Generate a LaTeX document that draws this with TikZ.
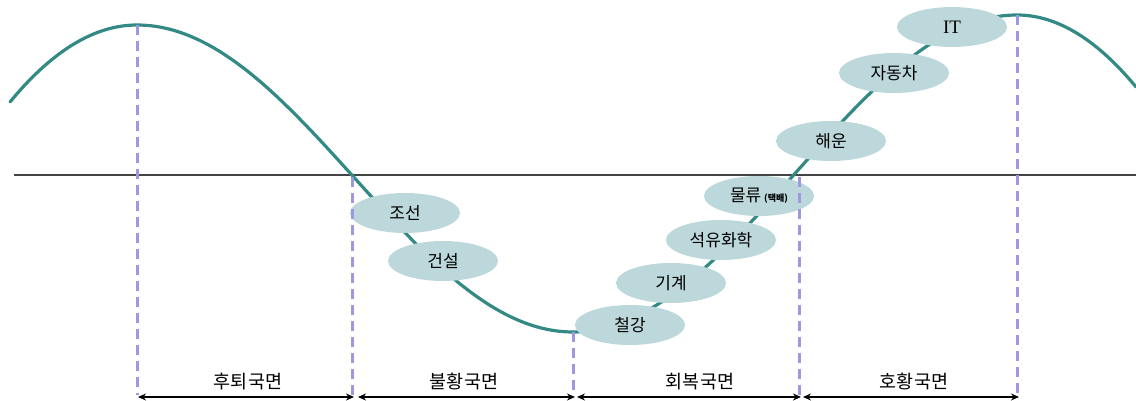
\documentclass[tikz,border=0pt]{standalone}
\usepackage{fontspec}
\setmainfont{Noto Sans CJK KR}
\newfontfamily\serifIT{Liberation Serif}
\usetikzlibrary{arrows.meta,shapes.geometric}
\definecolor{wavecol}{HTML}{338A84}
\definecolor{ellcol}{HTML}{BCD8DB}
\definecolor{dshcol}{HTML}{9E98E0}
\definecolor{axiscol}{HTML}{444444}
\begin{document}
\begin{tikzpicture}[x=1pt,y=-1pt,
  wavestyle/.style={draw=wavecol, line width=3.2pt},
  sector/.style={ellipse, fill=ellcol, minimum width=110pt, minimum height=40pt, inner sep=0pt, font=\fontsize{17}{18}\selectfont},
  guide/.style={draw=dshcol, line width=3pt, dash pattern=on 10pt off 6pt},
  phasearrow/.style={{Stealth[length=8pt,width=7pt]}-{Stealth[length=8pt,width=7pt]}, line width=2.2pt},
  phaselabel/.style={font=\fontsize{18.5}{20}\selectfont, inner sep=0pt}
]
\useasboundingbox (0,0) rectangle (1136,401);
% axis
\coordinate (axL) at (14,175);
\coordinate (axR) at (1136,175);
\draw[axiscol, line width=1.4pt] (axL) -- (axR);
% wave
\draw[wavestyle, line cap=round]
  plot[domain=10:137, samples=40] (\x, {25+77*((137-\x)/127)^2})
  -- plot[domain=137:573, samples=120] (\x, {178.5-153.5*cos((\x-137)*0.412844)})
  -- plot[domain=573:1017, samples=120] (\x, {173.5+158.5*cos((\x-573)*0.405405)})
  -- plot[domain=1017:1136, samples=40] (\x, {15+72*((\x-1017)/119)^2});
% sector ellipses
\node[sector] (joseon) at (405,213) {조선};
\node[sector] (geonseol) at (443,261) {건설};
\node[sector] (cheolgang) at (630,325) {철강};
\node[sector] (gigye) at (671,283) {기계};
\node[sector] (seogyu) at (721,240) {석유화학};
\node[sector] (mulryu) at (759,196) {물류\,{\fontsize{9}{10}\selectfont\bfseries(택배)}};
\node[sector] (haeun) at (831,141) {해운};
\node[sector] (jadongcha) at (894,73) {자동차};
\node[sector] (it) at (952,27) {\serifIT\fontsize{19}{20}\selectfont IT};
% dashed guides
\coordinate (g1t) at (137,25);  \coordinate (g1b) at (137,395);
\coordinate (g2t) at (352,177); \coordinate (g2b) at (352,395);
\coordinate (g3t) at (573,332); \coordinate (g3b) at (573,395);
\coordinate (g4t) at (799,177); \coordinate (g4b) at (799,395);
\coordinate (g5t) at (1017,15); \coordinate (g5b) at (1017,395);
\draw[guide] (g1t) -- (g1b);
\draw[guide] (g2t) -- (g2b);
\draw[guide] (g3t) -- (g3b);
\draw[guide] (g4t) -- (g4b);
\draw[guide] (g5t) -- (g5b);
% phase arrows
\coordinate (a1l) at (138,397); \coordinate (a1r) at (354,397);
\coordinate (a2l) at (358,397); \coordinate (a2r) at (575,397);
\coordinate (a3l) at (577,397); \coordinate (a3r) at (801,397);
\coordinate (a4l) at (803,397); \coordinate (a4r) at (1019,397);
\draw[phasearrow] (a1l) -- (a1r);
\draw[phasearrow] (a2l) -- (a2r);
\draw[phasearrow] (a3l) -- (a3r);
\draw[phasearrow] (a4l) -- (a4r);
\node[phaselabel] (l1) at (248,382) {후퇴국면};
\node[phaselabel] (l2) at (464,382) {불황국면};
\node[phaselabel] (l3) at (700,382) {회복국면};
\node[phaselabel] (l4) at (914,382) {호황국면};
\end{tikzpicture}
\end{document}
